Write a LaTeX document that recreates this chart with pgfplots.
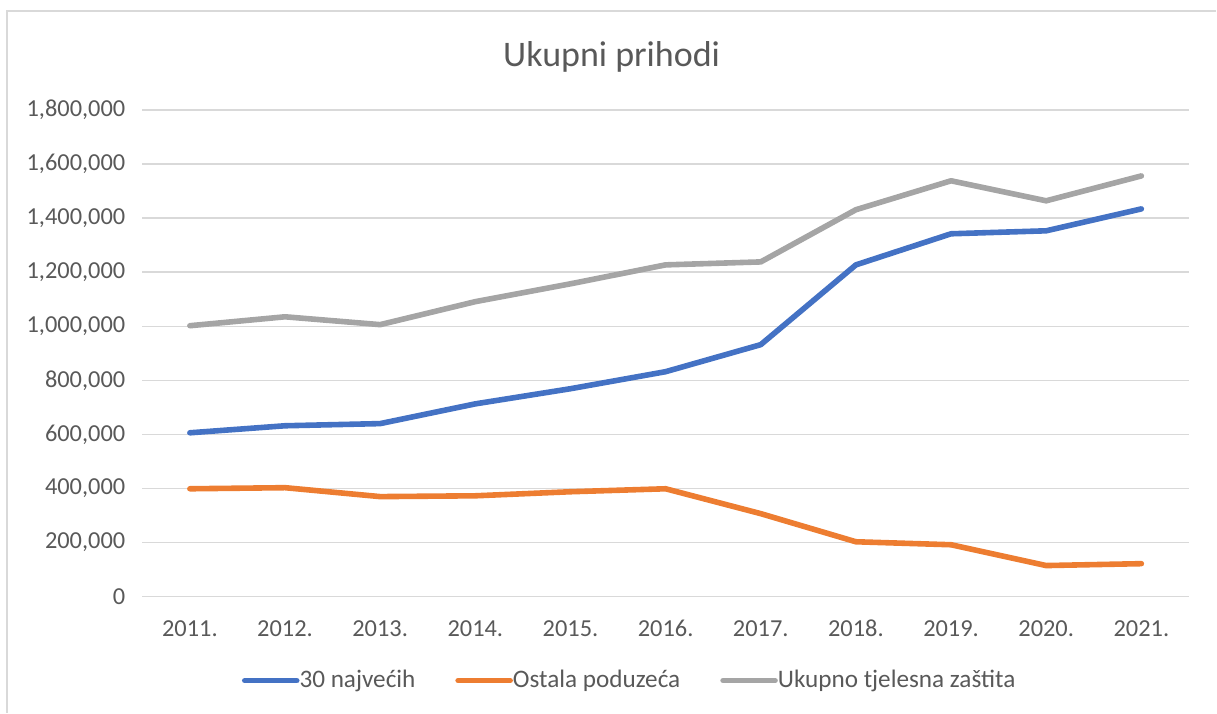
\documentclass[border=0pt]{standalone}
\usepackage{pgfplots}
\pgfplotsset{compat=1.18}
\usepackage{fontspec}
\setmainfont{Carlito}
\definecolor{cblue}{HTML}{4472C4}
\definecolor{corange}{HTML}{ED7D31}
\definecolor{cgray}{HTML}{A5A5A5}
\definecolor{ctext}{HTML}{595959}
\definecolor{cgrid}{HTML}{D9D9D9}
\begin{document}
\begin{tikzpicture}
\begin{axis}[
  scale only axis,
  width=523.6pt, height=243.5pt,
  xmin=-0.5, xmax=10.5,
  ymin=0, ymax=1800000,
  xtick={0,...,10},
  xticklabels={2011.,2012.,2013.,2014.,2015.,2016.,2017.,2018.,2019.,2020.,2021.},
  ytick={0,200000,...,1800000},
  scaled y ticks=false,
  /pgf/number format/.cd, fixed, 1000 sep={,}, assume math mode=true,
  /pgfplots/.cd,
  ymajorgrids,
  grid style={cgrid, line width=0.7pt},
  axis line style={draw=none},
  major tick style={draw=none},
  tick label style={font=\fontsize{12.2}{14}\selectfont, text=ctext},
  yticklabel style={xshift=-5pt},
  xticklabel style={yshift=-8pt, text height=8.5pt, text depth=0pt},
  legend style={at={(0.4666,-0.1725)}, anchor=center, draw=none, fill=none,
    font=\fontsize{12.6}{14}\selectfont, text=ctext,
    /tikz/every even column/.append style={column sep=18pt},
    /tikz/every odd column/.append style={column sep=-2pt},
    inner sep=0pt},
  legend columns=3,
  legend cell align=left,
  legend image code/.code={\draw[#1, line cap=round] (0pt,0pt) -- (26pt,0pt);},
  every axis plot/.append style={line width=2.8pt, line cap=round, line join=round},
]
\addplot[cblue] coordinates {(0,606000) (1,632000) (2,640000) (3,713000) (4,769000) (5,832000) (6,932000) (7,1227000) (8,1342000) (9,1353000) (10,1434000)};
\addlegendentry{30 najvećih}
\addplot[corange] coordinates {(0,399000) (1,403000) (2,370000) (3,373000) (4,388000) (5,399000) (6,307000) (7,203000) (8,192000) (9,115000) (10,122000)};
\addlegendentry{Ostala poduzeća}
\addplot[cgray] coordinates {(0,1002000) (1,1035000) (2,1006000) (3,1091000) (4,1157000) (5,1227000) (6,1238000) (7,1431000) (8,1538000) (9,1464000) (10,1556000)};
\addlegendentry{Ukupno tjelesna zaštita}
\end{axis}
\node[font=\fontsize{18}{21}\selectfont, text=ctext] at (234.8pt,270pt) {Ukupni prihodi};
\draw[cgrid, line width=0.7pt] (-67.7pt,-58pt) -- (-67.7pt,293pt) -- (537.3pt,293pt);
\path[use as bounding box] (-71.2pt,-58pt) rectangle (537.3pt,298.5pt);
\end{tikzpicture}
\end{document}
